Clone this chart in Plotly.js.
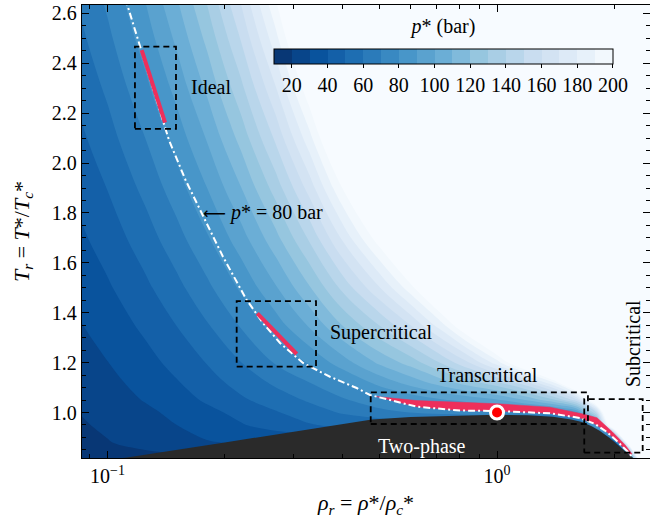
<!DOCTYPE html>
<html>
<head>
<meta charset="utf-8">
<script src="https://cdn.plot.ly/plotly-3.0.1.min.js"></script>
<style>html,body{margin:0;padding:0;background:#fff;}#chart{width:650px;height:530px;}</style>
</head>
<body>
<div id="chart"></div>
<script>
// ---- grid of the pressure field p* (bar) ----
const rhoGrid = [0.08, 0.1, 0.125, 0.15, 0.18, 0.22, 0.27, 0.33, 0.4, 0.5, 0.6, 0.72, 0.85, 1.0, 1.18, 1.4, 1.6, 1.8, 2.0, 2.2, 2.5];
const trGrid = [0.8, 0.88, 0.95, 1.0, 1.05, 1.12, 1.2, 1.35, 1.5, 1.7, 1.9, 2.1, 2.3, 2.5, 2.7];
const pGrid = [
  [13.6, 14.5, 14.5, 14.5, 14.5, 14.5, 14.5, 14.5, 14.5, 14.5, 14.5, 14.5, 14.5, 14.5, 14.5, 14.5, 14.5, 14.5, 14.5, 14.5, 400],
  [16.2, 19.5, 23.3, 26.6, 29.3, 31, 31, 31, 31, 31, 31, 31, 31, 31, 31, 31, 31, 31, 33, 250, 1100],
  [17.9, 21.7, 26.0, 29.9, 34.2, 39.2, 44.4, 49.2, 52.5, 52.5, 52.5, 52.5, 52.5, 52.5, 52.5, 52.5, 52.5, 90, 255, 620, 1400],
  [19.1, 23.2, 27.9, 32.3, 37.2, 42.9, 49.1, 55.3, 60.9, 66.6, 70.3, 72.6, 73.6, 73.8, 74.0, 75.0, 88, 150, 290, 560, 1500],
  [20.6, 25.2, 30.6, 35.7, 41.4, 48.3, 54.9, 61.3, 68.5, 76.7, 83.0, 88.7, 93.5, 98.5, 110, 128, 155, 230, 380, 680, 1700],
  [22.3, 27.3, 33.4, 39.1, 45.7, 53.8, 61.8, 70.0, 79.3, 93.5, 104, 115, 126, 138, 157, 190, 245, 350, 520, 800, 1800],
  [24.2, 29.8, 36.5, 43.0, 50.4, 59.8, 70.9, 81.1, 95, 112, 124, 141, 160, 185, 222, 280, 360, 480, 680, 980, 1900],
  [27.7, 34.2, 42.2, 50.0, 59.1, 70.9, 85.0, 101.4, 119.9, 140.4, 160, 186, 218, 258, 315, 400, 500, 640, 840, 1100, 1800],
  [31.2, 38.7, 47.9, 56.9, 67.6, 81.6, 98.8, 119.0, 142.3, 169.5, 196, 232, 272, 320, 385, 475, 570, 690, 830, 1000, 1300],
  [35.8, 44.5, 55.3, 66.1, 78.8, 95.7, 116.7, 141.8, 171.3, 207, 242, 289, 333, 394, 472, 578, 685, 805, 942, 1097, 1374],
  [40.3, 50.3, 62.7, 75.1, 89.9, 109.6, 134.3, 164.2, 199.7, 243.7, 282, 338, 402, 479, 577, 709, 842, 990, 1157, 1346, 1677],
  [44.9, 56.1, 70.0, 84.0, 100.8, 123.4, 151.8, 186.4, 227.7, 280, 325, 393, 469, 560, 678, 836, 994, 1170, 1366, 1587, 1972],
  [49.4, 61.8, 77.4, 92.9, 111.8, 137.1, 169.1, 208.4, 255.5, 315, 368, 446, 534, 640, 777, 960, 1143, 1345, 1570, 1822, 2259],
  [54.0, 67.6, 84.7, 101.8, 122.6, 150.7, 186.4, 230.2, 283.1, 350, 410, 498, 598, 719, 874, 1080, 1287, 1516, 1769, 2051, 2540],
  [58.5, 73.3, 91.9, 110.7, 133.5, 164.3, 203.5, 251.9, 310.5, 385, 451, 549, 660, 795, 969, 1199, 1429, 1683, 1964, 2276, 2815]
];
const cbTicks = [20, 40, 60, 80, 100, 120, 140, 160, 180, 200];

// ---- two-phase dome ----
const domeRho = [0.0915, 0.1123, 0.2, 0.311, 0.4774, 0.6, 0.732, 0.85, 1.0, 1.2, 1.392, 1.55, 1.653, 1.75, 1.838, 1.95, 2.045, 2.15, 2.23, 2.30];
const domeTr  = [0.80, 0.82, 0.880, 0.9254, 0.9719, 0.982, 0.9864, 0.989, 0.991, 0.989, 0.9832, 0.972, 0.962, 0.945, 0.9258, 0.897, 0.8677, 0.840, 0.82, 0.80];

// ---- p* = 80 bar isobar ----
const isoRho = [0.1111, 0.1177, 0.1221, 0.1301, 0.1393, 0.1438, 0.1586, 0.1728, 0.1979, 0.2277, 0.2507, 0.2773, 0.3176, 0.3725, 0.4362, 0.472, 0.6221, 0.8036, 1.0, 1.368, 1.634, 1.785, 1.916, 2.045, 2.17, 2.247, 2.30];
const isoTr  = [2.66, 2.5337, 2.4535, 2.3131, 2.162, 2.0926, 1.9323, 1.812, 1.6247, 1.4511, 1.3589, 1.2787, 1.1985, 1.1435, 1.0982, 1.0702, 1.0233, 1.008, 1.006, 0.9968, 0.978, 0.9539, 0.9218, 0.8817, 0.8416, 0.8136, 0.79];

// ---- highlighted states ----
const idealRho = [0.1224, 0.1311, 0.1405];
const idealTr  = [2.4535, 2.3131, 2.162];
const superRho = [0.2424, 0.2719, 0.3060];
const superTr  = [1.3978, 1.3176, 1.2346];
const transRho = [0.490, 0.6221, 0.8036, 1.004, 1.368, 1.663, 1.806, 1.973, 2.131, 2.222, 2.20, 2.045, 1.916, 1.785, 1.634, 1.368, 1.004, 0.8036, 0.6221, 0.490];
const transTr  = [1.064, 1.0480, 1.0411, 1.0351, 1.0213, 0.994, 0.9789, 0.9238, 0.8707, 0.8336, 0.830, 0.8817, 0.9218, 0.9539, 0.978, 0.9968, 1.006, 1.008, 1.0233, 1.064];
const critRho = [1.0];
const critTr  = [1.0];

// ---- regime boxes [rho0, rho1, Tr0, Tr1] ----
const boxIdeal = [0.1176, 0.1499, 2.137, 2.467];
const boxSuper = [0.2146, 0.343, 1.184, 1.447];
const boxTrans = [0.474, 1.712, 0.954, 1.081];
const boxSub   = [1.675, 2.366, 0.839, 1.054];

const FONT = 'Liberation Serif, Times New Roman, serif';
const blues = [[0,'#08306b'],[0.125,'#08519c'],[0.25,'#2171b5'],[0.375,'#4292c6'],[0.5,'#6baed6'],[0.625,'#9ecae1'],[0.75,'#c6dbef'],[0.875,'#deebf7'],[1,'#f7fbff']];

function boxTrace(b){
  return {type:'scatter', mode:'lines', x:[b[0],b[1],b[1],b[0],b[0]], y:[b[2],b[2],b[3],b[3],b[2]],
    line:{color:'black', width:1.8, dash:'6px,4px'}, hoverinfo:'skip', showlegend:false};
}

const traces = [
  {type:'contour', x:rhoGrid, y:trGrid, z:pGrid, zmin:10, zmax:200, autocontour:false,
   contours:{start:10, end:200, size:10, coloring:'fill', showlines:false},
   line:{width:0}, colorscale:blues, hoverinfo:'skip',
   colorbar:{orientation:'h', x:0.6364, xanchor:'center', y:0.954, yanchor:'top',
     len:339, lenmode:'pixels', thickness:15, thicknessmode:'pixels', xpad:0, ypad:0,
     outlinewidth:1, outlinecolor:'black', tickmode:'array', tickvals:cbTicks,
     ticks:'outside', ticklen:4, tickcolor:'black', tickfont:{family:FONT, size:20, color:'black'},
     title:{text:'<i>p</i>* (bar)', side:'top', font:{family:FONT, size:20, color:'black'}}}},
  {type:'scatter', mode:'lines', x:domeRho, y:domeTr, fill:'toself', fillcolor:'#2a2a2a',
   line:{width:0, color:'#2a2a2a'}, hoverinfo:'skip', showlegend:false},
  {type:'scatter', mode:'lines', x:transRho, y:transTr, fill:'toself', fillcolor:'#ee2f5b',
   line:{width:0.5, color:'#ee2f5b'}, hoverinfo:'skip', showlegend:false},
  {type:'scatter', mode:'lines', x:isoRho, y:isoTr, line:{color:'white', width:2, dash:'7px,3px,2px,3px'},
   hoverinfo:'skip', showlegend:false},
  {type:'scatter', mode:'lines', x:idealRho, y:idealTr, line:{color:'#ee2f5b', width:4},
   hoverinfo:'skip', showlegend:false},
  {type:'scatter', mode:'lines', x:superRho, y:superTr, line:{color:'#ee2f5b', width:4},
   hoverinfo:'skip', showlegend:false},
  boxTrace(boxIdeal), boxTrace(boxSuper), boxTrace(boxTrans), boxTrace(boxSub),
  {type:'scatter', mode:'markers', x:critRho, y:critTr,
   marker:{size:13, color:'#ff0000', line:{color:'white', width:3}}, hoverinfo:'skip', showlegend:false, cliponaxis:false}
];

function ann(text, rho, tr, opts){
  return Object.assign({text:text, x:Math.log10(rho), y:tr, xref:'x', yref:'y', showarrow:false,
    font:{family:FONT, size:20, color:'black'}}, opts||{});
}

const layout = {
  width:650, height:530,
  margin:{l:82, r:0, t:5, b:72},
  paper_bgcolor:'white', plot_bgcolor:'white',
  showlegend:false,
  font:{family:FONT, size:20, color:'black'},
  xaxis:{type:'log', range:[-1.0655, 0.3928], tickmode:'array', tickvals:[0.1, 1],
    ticktext:['10<sup>\u22121</sup>','10<sup>0</sup>'], ticks:'inside', ticklen:7, tickwidth:1, tickcolor:'black',
    showline:true, linecolor:'black', linewidth:1.2, mirror:'allticks', showgrid:false, zeroline:false,
    tickfont:{family:FONT, size:20, color:'black'},
    minor:{tickmode:'array', tickvals:[0.09,0.2,0.3,0.4,0.5,0.6,0.7,0.8,0.9,2], ticks:'inside', ticklen:4, tickcolor:'black', showgrid:false},
    title:{text:'<i>\u03c1<sub>r</sub></i> = <i>\u03c1</i>*/<i>\u03c1</i><sub><i>c</i></sub>*', font:{family:FONT, size:22, color:'black'}, standoff:8}},
  yaxis:{range:[0.8176, 2.634], tick0:0, dtick:0.2, tickformat:'.1f', ticks:'inside', ticklen:7, tickwidth:1, tickcolor:'black',
    showline:true, linecolor:'black', linewidth:1.2, mirror:'allticks', showgrid:false, zeroline:false,
    tickfont:{family:FONT, size:20, color:'black'},
    minor:{tick0:0, dtick:0.05, ticks:'inside', ticklen:4, tickcolor:'black', showgrid:false},
    title:{text:'<i>T<sub>r</sub></i> = <i>T</i>*/<i>T</i><sub><i>c</i></sub>*', font:{family:FONT, size:22, color:'black'}, standoff:16}},
  annotations:[
    ann('Ideal', 0.1619, 2.306, {xanchor:'left'}),
    ann('Supercritical', 0.3683, 1.319, {xanchor:'left'}),
    ann('Transcritical', 0.9426, 1.150, {xanchor:'center'}),
    ann('Two-phase', 0.6407, 0.8657, {xanchor:'center', font:{family:FONT, size:20, color:'white'}}),
    ann('Subcritical', 2.235, 1.2747, {xanchor:'center', textangle:-90}),
    ann('<span style="font-family:DejaVu Sans;font-size:16px">\u27f5</span> <i>p</i>* = 80 bar', 0.174, 1.804, {xanchor:'left'})
  ]
};

Plotly.newPlot('chart', traces, layout, {displayModeBar:false, staticPlot:true});
</script>
</body>
</html>
